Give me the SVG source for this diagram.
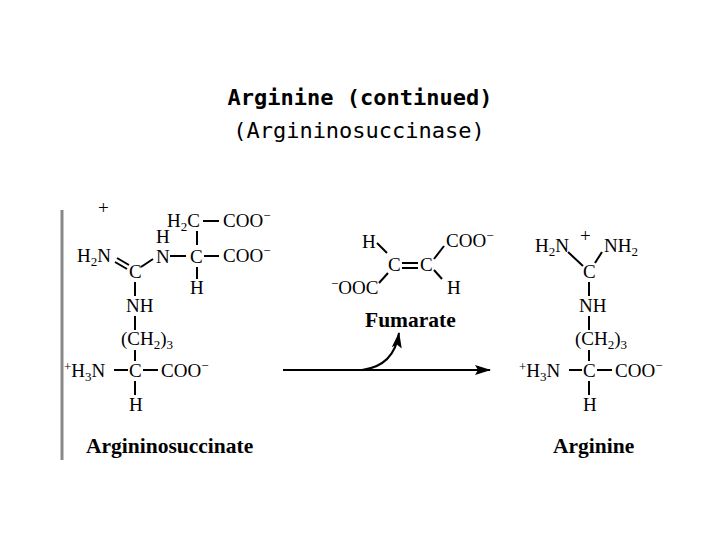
<svg xmlns="http://www.w3.org/2000/svg" width="720" height="540" viewBox="0 0 720 540">
<style>
.t{font-family:"Liberation Serif",serif;font-size:19px;fill:#000}
.b{font-family:"Liberation Serif",serif;font-size:21.5px;font-weight:bold;fill:#000}
.h{font-family:"DejaVu Sans Mono",monospace;font-size:22px;fill:#000;text-anchor:middle}
.s{font-size:13px}
line,path.c{stroke:#000;stroke-width:2;fill:none}
.ah{fill:#000;stroke:none}
</style>
<defs><marker id="ah" markerWidth="16" markerHeight="10" refX="15" refY="5" orient="auto" markerUnits="userSpaceOnUse"><path class="ah" d="M0,0 L16,5 L0,10 L3,5 Z"/></marker></defs>
<rect width="720" height="540" fill="#fff"/>
<text class="h" x="360" y="105" font-weight="bold">Arginine (continued)</text>
<text class="h" x="359" y="138">(Argininosuccinase)</text>
<line x1="62" y1="210" x2="62" y2="460" style="stroke:#888;stroke-width:3"/>
<g id="argininosuccinate">
<text class="t" x="167" y="227">H<tspan class="s" dy="4">2</tspan><tspan dy="-4">C</tspan></text>
<line x1="203" y1="221" x2="219" y2="221"/>
<text class="t" x="223" y="227">COO<tspan class="s" dy="-7">−</tspan></text>
<line x1="197" y1="231" x2="197" y2="245"/>
<text class="t" x="98" y="214">+</text>
<text class="t" x="156" y="243">H</text>
<text class="t" x="77" y="262">H<tspan class="s" dy="4">2</tspan><tspan dy="-4">N</tspan></text>
<line x1="117" y1="258" x2="129" y2="265"/><line x1="115" y1="262" x2="127" y2="269"/>
<text class="t" x="129" y="278">C</text>
<line x1="141" y1="267" x2="153" y2="259"/>
<text class="t" x="156" y="263">N</text>
<line x1="170" y1="256" x2="186" y2="256"/>
<text class="t" x="190" y="263">C</text>
<line x1="204" y1="256" x2="219" y2="256"/>
<text class="t" x="223" y="262">COO<tspan class="s" dy="-7">−</tspan></text>
<line x1="197" y1="267" x2="197" y2="279"/>
<text class="t" x="190" y="294">H</text>
<line x1="135" y1="282" x2="135" y2="296"/>
<text class="t" x="126" y="312">NH</text>
<line x1="135" y1="316" x2="135" y2="330"/>
<text class="t" x="121" y="345">(CH<tspan class="s" dy="4">2</tspan><tspan dy="-4">)</tspan><tspan class="s" dy="4">3</tspan></text>
<line x1="135" y1="350" x2="135" y2="361"/>
<text class="t" x="64" y="377"><tspan class="s" dy="-6">+</tspan><tspan dy="6">H</tspan><tspan class="s" dy="4">3</tspan><tspan dy="-4">N</tspan></text>
<line x1="114" y1="370" x2="128" y2="370"/>
<text class="t" x="129" y="377">C</text>
<line x1="143" y1="370" x2="158" y2="370"/>
<text class="t" x="161" y="377">COO<tspan class="s" dy="-7">−</tspan></text>
<line x1="135" y1="381" x2="135" y2="395"/>
<text class="t" x="129" y="411">H</text>
<text class="b" x="86" y="453">Argininosuccinate</text>
</g>
<g id="fumarate">
<text class="t" x="362" y="248">H</text>
<line x1="377" y1="243" x2="387" y2="253"/>
<text class="t" x="388" y="271">C</text>
<line x1="402" y1="263" x2="418" y2="263"/><line x1="402" y1="268" x2="418" y2="268"/>
<text class="t" x="420" y="271">C</text>
<line x1="434" y1="259" x2="444" y2="246"/>
<text class="t" x="446" y="247">COO<tspan class="s" dy="-7">−</tspan></text>
<line x1="434" y1="270" x2="442" y2="279"/>
<text class="t" x="447" y="294">H</text>
<text class="t" x="331" y="294"><tspan class="s" dy="-6">−</tspan><tspan dy="6">OOC</tspan></text>
<line x1="379" y1="283" x2="388" y2="273"/>
<text class="b" x="365" y="327">Fumarate</text>
</g>
<g id="arginine">
<text class="t" x="535" y="252">H<tspan class="s" dy="4">2</tspan><tspan dy="-4">N</tspan></text>
<text class="t" x="580" y="242">+</text>
<text class="t" x="604" y="252">NH<tspan class="s" dy="4">2</tspan></text>
<line x1="568" y1="252" x2="583" y2="266"/>
<line x1="602" y1="252" x2="595" y2="263"/>
<text class="t" x="583" y="278">C</text>
<line x1="589" y1="282" x2="589" y2="296"/>
<text class="t" x="579" y="312">NH</text>
<line x1="589" y1="316" x2="589" y2="330"/>
<text class="t" x="575" y="345">(CH<tspan class="s" dy="4">2</tspan><tspan dy="-4">)</tspan><tspan class="s" dy="4">3</tspan></text>
<line x1="589" y1="350" x2="589" y2="361"/>
<text class="t" x="519" y="377"><tspan class="s" dy="-6">+</tspan><tspan dy="6">H</tspan><tspan class="s" dy="4">3</tspan><tspan dy="-4">N</tspan></text>
<line x1="569" y1="370" x2="582" y2="370"/>
<text class="t" x="583" y="377">C</text>
<line x1="597" y1="370" x2="612" y2="370"/>
<text class="t" x="615" y="377">COO<tspan class="s" dy="-7">−</tspan></text>
<line x1="589" y1="381" x2="589" y2="395"/>
<text class="t" x="583" y="411">H</text>
<text class="b" x="553" y="453">Arginine</text>
</g>
<g id="connectors">
<line x1="283" y1="370" x2="490" y2="370" marker-end="url(#ah)"/>
<path class="c" d="M362 370 Q394 366 399 333" marker-end="url(#ah)"/>
</g>
</svg>
